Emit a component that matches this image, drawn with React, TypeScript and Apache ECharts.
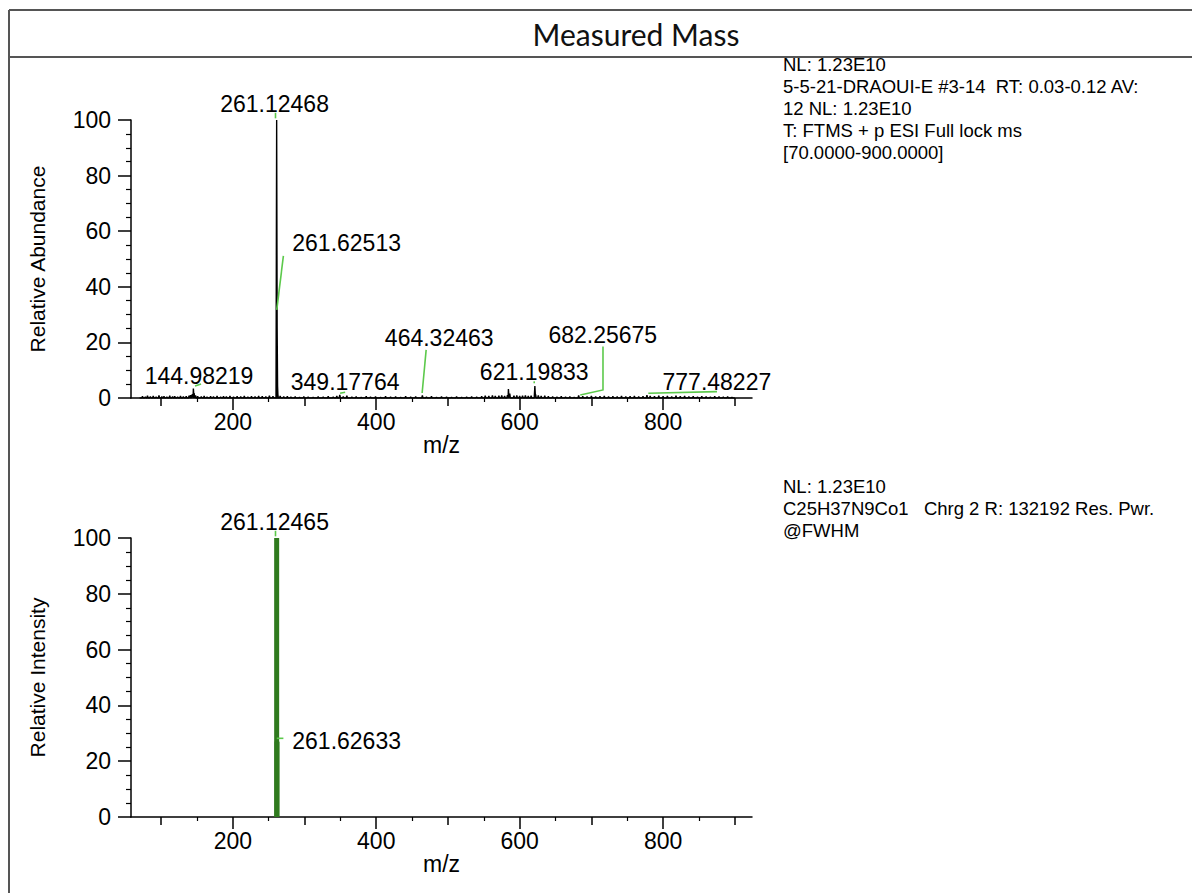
import React, { useEffect, useRef } from "react";
import * as echarts from "echarts";

// ---- axes ----
const xMin = 58;
const xMax = 924;
const majorXTicks = [200, 400, 600, 800];
const midXTicks = [100, 300, 500, 700, 900];
const minorXTicks = [150, 250, 350, 450, 550, 650, 750, 850];
const yMin = 0;
const yMax = 100;
const yInterval = 20;

// ---- measured spectrum (m/z, relative abundance) ----
const measuredPeaks: [number, number][] = [
  [143.6, 1.4], [144.98219, 3.4], [146.0, 1.8],
  [261.12468, 100], [261.62513, 31.5], [262.127, 6.2], [262.63, 1.6],
  [349.17764, 1.1], [464.32463, 0.9],
  [584.3, 3.2], [586.2, 1.6],
  [621.19833, 4.3], [622.2, 1.3],
  [682.25675, 0.9], [777.48227, 1.0],
];

const noisePeaks: [number, number][] = [
  [74, 0.6], [78, 0.4], [81, 0.8], [85, 0.5], [89, 0.7], [93, 0.4], [97, 0.9], [101, 0.5],
  [104, 0.6], [108, 0.4], [112, 0.8], [116, 0.5], [119, 0.6], [123, 0.4], [127, 0.7], [131, 0.5],
  [135, 0.6], [139, 0.8], [141, 1.0], [148, 0.9], [151, 0.6], [156, 0.5], [160, 0.7], [164, 0.4],
  [169, 0.6], [173, 0.5], [178, 0.7], [183, 0.4], [187, 0.6], [191, 0.5], [196, 0.7], [201, 0.4],
  [206, 0.6], [211, 0.5], [216, 0.7], [221, 0.4], [226, 0.6], [231, 0.5], [236, 0.7], [241, 0.6],
  [246, 0.5], [251, 0.8], [256, 0.6], [266, 0.7], [271, 0.5], [276, 0.6], [281, 0.4], [287, 0.5],
  [293, 0.3], [299, 0.5], [305, 0.4], [312, 0.3], [319, 0.5], [326, 0.4], [333, 0.6], [340, 0.4],
  [345, 0.7], [354, 0.5], [359, 0.8], [366, 0.4], [372, 0.5], [379, 0.3], [386, 0.6], [392, 0.4],
  [399, 0.5], [406, 0.3], [413, 0.6], [420, 0.4], [427, 0.5], [434, 0.3], [441, 0.6], [448, 0.4],
  [455, 0.5], [470, 0.4], [477, 0.6], [484, 0.3], [491, 0.5], [498, 0.4], [505, 0.3], [512, 0.5],
  [519, 0.3], [526, 0.4], [533, 0.5], [540, 0.4], [547, 0.6], [552, 0.8], [557, 0.7], [562, 0.9],
  [566, 0.7], [571, 0.8], [575, 0.9], [579, 0.7], [583, 1.0], [592, 0.8], [596, 0.9], [600, 0.7],
  [604, 0.8], [608, 0.9], [612, 0.7], [616, 0.8], [626, 0.9], [630, 0.7], [635, 0.8], [640, 0.6],
  [646, 0.5], [652, 0.4], [658, 0.6], [664, 0.4], [670, 0.5], [676, 0.3], [688, 0.6], [694, 0.5],
  [700, 0.7], [706, 0.5], [712, 0.6], [718, 0.7], [724, 0.5], [730, 0.6], [736, 0.5], [742, 0.7],
  [748, 0.5], [754, 0.6], [760, 0.7], [766, 0.5], [772, 0.6], [782, 0.7], [788, 0.6], [794, 0.8],
  [800, 0.6], [806, 0.7], [812, 0.5], [818, 0.8], [824, 0.6], [830, 0.7], [836, 0.5], [842, 0.6],
  [848, 0.4], [854, 0.6], [860, 0.5], [866, 0.4], [872, 0.6], [878, 0.5], [884, 0.4], [890, 0.5],
  [896, 0.3],
];

// ---- theoretical spectrum ----
const theoreticalPeaks: [number, number][] = [
  [261.12465, 100],
  [261.62633, 27],
];

// ---- peak annotations (label text, label anchor in data units) ----
const measuredLabels: { text: string; at: [number, number] }[] = [
  { text: "144.98219", at: [152.9, 7.9] },
  { text: "261.12468", at: [258.2, 105.6] },
  { text: "261.62513", at: [358.7, 55.6] },
  { text: "349.17764", at: [356.6, 5.6] },
  { text: "464.32463", at: [487.8, 21.6] },
  { text: "621.19833", at: [620.3, 9.5] },
  { text: "682.25675", at: [715.9, 22.5] },
  { text: "777.48227", at: [875.0, 5.9] },
];
const measuredLeaders: [number, number][][] = [
  [[147.3, 4.3], [155.7, 5.0]],
  [[259.5, 100.6], [259.5, 102.6]],
  [[270.5, 51.1], [261.3, 31.7]],
  [[349.6, 1.7], [356.6, 2.05]],
  [[469.6, 17.3], [464.0, 1.8]],
  [[620.3, 5.3], [620.3, 6.0]],
  [[716.2, 18.5], [716.2, 2.9], [684.5, 1.1]],
  [[779.4, 1.7], [875.2, 2.3]],
];
const theoreticalLabels: { text: string; at: [number, number] }[] = [
  { text: "261.12465", at: [258.2, 105.6] },
  { text: "261.62633", at: [358.7, 27.1] },
];
const theoreticalLeaders: [number, number][][] = [
  [[259.5, 100.6], [259.5, 102.6]],
  [[261.3, 28.2], [270.5, 28.2]],
];

const measuredInfo = [
  "NL: 1.23E10",
  "5-5-21-DRAOUI-E #3-14  RT: 0.03-0.12 AV:",
  "12 NL: 1.23E10",
  "T: FTMS + p ESI Full lock ms",
  "[70.0000-900.0000]",
];
const theoreticalInfo = [
  "NL: 1.23E10",
  "C25H37N9Co1   Chrg 2 R: 132192 Res. Pwr.",
  "@FWHM",
];

const FONT = "'Liberation Sans', Arial, sans-serif";

function stickData(peaks: [number, number][]) {
  const sorted = [...peaks].sort((a, b) => a[0] - b[0]);
  const out: [number, number][] = [[70, 0]];
  for (const [mz, h] of sorted) {
    out.push([mz - 0.9, 0], [mz, h], [mz + 0.9, 0]);
  }
  out.push([900, 0]);
  return out;
}

function xAxes(gridIndex: number) {
  const base = {
    type: "value" as const,
    gridIndex,
    min: xMin,
    max: xMax,
    position: "bottom" as const,
    splitLine: { show: false },
  };
  return [
    {
      ...base,
      axisLine: { show: true, onZero: false, lineStyle: { color: "#000", width: 1.5 } },
      axisTick: { show: true, customValues: majorXTicks, length: 12, lineStyle: { color: "#000", width: 1.5 } },
      axisLabel: { show: true, customValues: majorXTicks, margin: 12, fontSize: 23, color: "#000", fontFamily: FONT },
      name: "m/z",
      nameLocation: "middle",
      nameGap: 34,
      nameTextStyle: { fontSize: 23, color: "#000", fontFamily: FONT },
    },
    {
      ...base,
      axisLine: { show: false },
      axisTick: { show: true, customValues: midXTicks, length: 8, lineStyle: { color: "#000", width: 1.5 } },
      axisLabel: { show: false },
    },
    {
      ...base,
      axisLine: { show: false },
      axisTick: { show: true, customValues: minorXTicks, length: 4, lineStyle: { color: "#000", width: 1.2 } },
      axisLabel: { show: false },
    },
  ];
}

function yAxis(gridIndex: number, name: string) {
  return {
    type: "value" as const,
    gridIndex,
    min: yMin,
    max: yMax,
    interval: yInterval,
    axisLine: { show: true, lineStyle: { color: "#000", width: 1.5 } },
    axisTick: { show: true, length: 13, lineStyle: { color: "#000", width: 1.5 } },
    minorTick: { show: true, splitNumber: 4, length: 5, lineStyle: { color: "#000", width: 1.2 } },
    axisLabel: { margin: 20, fontSize: 23, color: "#000", fontFamily: FONT },
    splitLine: { show: false },
    minorSplitLine: { show: false },
    name,
    nameLocation: "middle" as const,
    nameGap: 83,
    nameTextStyle: { fontSize: 21, color: "#000", fontFamily: FONT },
  };
}

function labelSeries(xi: number, yi: number, labels: { text: string; at: [number, number] }[]) {
  return {
    type: "scatter",
    xAxisIndex: xi,
    yAxisIndex: yi,
    silent: true,
    clip: false,
    symbol: "circle",
    symbolSize: 0,
    itemStyle: { color: "#000", opacity: 1 },
    emphasis: { disabled: true },
    label: {
      show: true,
      position: "inside",
      formatter: "{b}",
      fontSize: 23,
      color: "#000",
      opacity: 1,
      textBorderWidth: 0,
      fontFamily: FONT,
    },
    data: labels.map((l) => ({ name: l.text, value: l.at })),
    z: 5,
  };
}

function leaderSeries(xi: number, yi: number, leaders: [number, number][][]) {
  return {
    type: "lines",
    coordinateSystem: "cartesian2d",
    xAxisIndex: xi,
    yAxisIndex: yi,
    polyline: true,
    silent: true,
    clip: false,
    lineStyle: { color: "#5cc94b", width: 1.6, opacity: 1 },
    data: leaders.map((c) => ({ coords: c })),
    z: 4,
  };
}

function infoText(lines: string[], x: number, y0: number) {
  return lines.map((t, i) => ({
    type: "text",
    x,
    y: y0 + i * 22,
    style: {
      text: t,
      fontSize: 18.5,
      fontFamily: FONT,
      fill: "#000",
      align: "left",
      verticalAlign: "middle",
    },
    silent: true,
  }));
}

export default function App() {
  const ref = useRef<HTMLDivElement>(null);
  useEffect(() => {
    if (!ref.current) return;
    const chart = echarts.init(ref.current, undefined, { renderer: "svg" });
    const option: any = {
      animation: false,
      backgroundColor: "#fff",
      grid: [
        { left: 131, top: 120, width: 621, height: 278, containLabel: false },
        { left: 131, top: 538, width: 621, height: 279, containLabel: false },
      ],
      xAxis: [...xAxes(0), ...xAxes(1)],
      yAxis: [yAxis(0, "Relative Abundance"), yAxis(1, "Relative Intensity")],
      series: [
        {
          type: "line",
          xAxisIndex: 0,
          yAxisIndex: 0,
          data: stickData([...measuredPeaks, ...noisePeaks]),
          symbol: "none",
          showSymbol: false,
          silent: true,
          lineStyle: { color: "#000", width: 1.4 },
          z: 3,
        },
        leaderSeries(0, 0, measuredLeaders),
        labelSeries(0, 0, measuredLabels),
        {
          type: "bar",
          xAxisIndex: 3,
          yAxisIndex: 1,
          data: theoreticalPeaks,
          barWidth: 5,
          silent: true,
          itemStyle: { color: "#2f7a1e" },
          z: 3,
        },
        leaderSeries(3, 1, theoreticalLeaders),
        labelSeries(3, 1, theoreticalLabels),
      ],
      graphic: [
        { type: "line", shape: { x1: 9, y1: 10, x2: 9, y2: 893 }, style: { stroke: "#555", lineWidth: 2 }, silent: true },
        { type: "line", shape: { x1: 9, y1: 10, x2: 1192, y2: 10 }, style: { stroke: "#555", lineWidth: 2 }, silent: true },
        { type: "line", shape: { x1: 9, y1: 57, x2: 1192, y2: 57 }, style: { stroke: "#555", lineWidth: 2 }, silent: true },
        {
          type: "text",
          x: 636,
          y: 34,
          style: {
            text: "Measured Mass",
            fontSize: 30,
            fontFamily: "Lato, 'Open Sans', sans-serif",
            fill: "#111",
            align: "center",
            verticalAlign: "middle",
          },
          silent: true,
        },
        ...infoText(measuredInfo, 783, 64),
        ...infoText(theoreticalInfo, 783, 486),
      ],
    };
    chart.setOption(option);
    return () => chart.dispose();
  }, []);
  return (
    <div
      ref={ref}
      style={{ position: "absolute", left: 0, top: 0, width: 1192, height: 893, background: "#fff" }}
    />
  );
}
